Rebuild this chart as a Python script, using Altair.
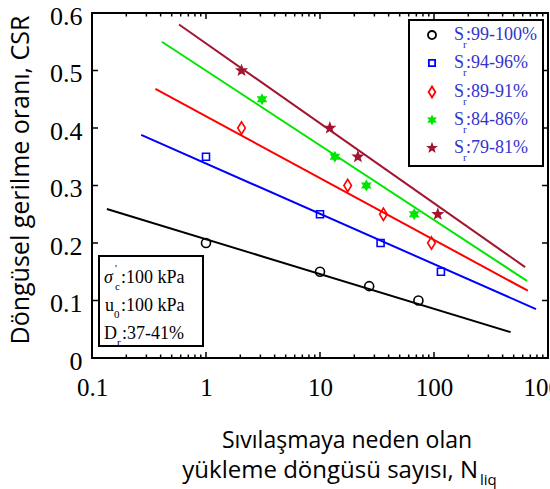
import math
import altair as alt
import pandas as pd

# ---------------- data ----------------
series_labels = [":99-100%", ":94-96%", ":89-91%", ":84-86%", ":79-81%"]
series_colors = ["#000000", "#0000ff", "#ff0000", "#00e600", "#a2142f"]

n_s99 = [1, 10, 27, 73]
csr_s99 = [0.20, 0.15, 0.125, 0.10]
n_s94 = [1, 10, 34, 115]
csr_s94 = [0.35, 0.25, 0.20, 0.15]
n_s89 = [2.05, 17.5, 36, 95]
csr_s89 = [0.40, 0.30, 0.25, 0.20]
n_s84 = [3.1, 13.5, 25.5, 67]
csr_s84 = [0.45, 0.35, 0.30, 0.25]
n_s79 = [2.05, 12.2, 21.5, 108]
csr_s79 = [0.50, 0.40, 0.35, 0.25]

# fitted trend lines (start / end)
fit_n = [[0.135, 470], [0.27, 785], [0.36, 665], [0.41, 655], [0.58, 630]]
fit_csr = [[0.259, 0.045], [0.388, 0.085], [0.468, 0.117], [0.55, 0.134], [0.58, 0.158]]

x_major = [0.1, 1, 10, 100, 1000]
x_minor = [k * 10.0 ** d for d in range(-1, 3) for k in range(2, 10)]
y_major = [0, 0.1, 0.2, 0.3, 0.4, 0.5, 0.6]

pts_n = [n_s99, n_s94, n_s89, n_s84, n_s79]
pts_csr = [csr_s99, csr_s94, csr_s89, csr_s84, csr_s79]

# ---------------- shapes ----------------
def star_path(points, inner):
    coords = []
    for i in range(points * 2):
        r = 1.0 if i % 2 == 0 else inner
        a = -math.pi / 2 + i * math.pi / points
        coords.append(f"{r * math.cos(a):.3f},{r * math.sin(a):.3f}")
    return "M" + "L".join(coords) + "Z"

diamond = "M0,-1L0.62,0L0,1L-0.62,0Z"
star6 = star_path(6, 0.55)
star5 = star_path(5, 0.42)
shapes = ["circle", "square", diamond, star6, star5]
sizes = [81, 49, 150, 150, 190]
filled = [False, False, False, True, True]

W, H = 456, 345
SERIF = "Liberation Serif"
SANS = "Open Sans"

xs = alt.Scale(type="log", domain=[0.1, 1000], nice=False)
ys = alt.Scale(domain=[0, 0.6], nice=False)
xaxis = alt.Axis(values=x_major, format="~g", grid=False, ticks=False, domain=False,
                 labelFont=SERIF, labelFontSize=25, labelColor="black", labelPadding=17,
                 labelFlush=False, labelOverlap=False)
yaxis = alt.Axis(values=y_major, grid=False, ticks=False, domain=False,
                 labelExpr="datum.value == 0 ? '0' : format(datum.value, '.1f')",
                 labelFont=SERIF, labelFontSize=26, labelColor="black", labelPadding=10,
                 labelOffset=3, labelFlush=False, labelOverlap=False)
X = alt.X("n:Q", scale=xs, axis=xaxis, title="")
Y = alt.Y("csr:Q", scale=ys, axis=yaxis, title="")

layers = []

# fitted lines
for i in range(5):
    df = pd.DataFrame({"n": fit_n[i], "csr": fit_csr[i]})
    layers.append(alt.Chart(df).mark_line(color=series_colors[i], strokeWidth=2).encode(x=X, y=Y))

# data points
for i in range(5):
    df = pd.DataFrame({"n": pts_n[i], "csr": pts_csr[i]})
    kw = dict(shape=shapes[i], size=sizes[i], filled=filled[i], color=series_colors[i], opacity=1)
    if not filled[i]:
        kw["strokeWidth"] = 1.6
    layers.append(alt.Chart(df).mark_point(**kw).encode(x=X, y=Y))

# inward ticks
xmaj = pd.DataFrame({"n": x_major})
xmin = pd.DataFrame({"n": x_minor})
ymaj = pd.DataFrame({"csr": y_major})
for df, ln in ((xmaj, 6), (xmin, 3.5)):
    layers.append(alt.Chart(df).mark_rule(color="black", strokeWidth=1.5).encode(
        x=X, y=alt.value(H), y2=alt.value(H - ln)))
    layers.append(alt.Chart(df).mark_rule(color="black", strokeWidth=1.5).encode(
        x=X, y=alt.value(0), y2=alt.value(ln)))
layers.append(alt.Chart(ymaj).mark_rule(color="black", strokeWidth=1.5).encode(
    y=Y, x=alt.value(0), x2=alt.value(6)))
layers.append(alt.Chart(ymaj).mark_rule(color="black", strokeWidth=1.5).encode(
    y=Y, x=alt.value(W), x2=alt.value(W - 6)))

one = pd.DataFrame({"a": [0]})

def txt(t, x, y, size=18, font=SERIF, color="black", align="left", baseline="middle", **kw):
    return alt.Chart(one).mark_text(text=t, font=font, fontSize=size, color=color,
                                    align=align, baseline=baseline, **kw).encode(
        x=alt.value(x), y=alt.value(y))

# legend box
layers.append(alt.Chart(one).mark_rect(fill="white", stroke="black", strokeWidth=2).encode(
    x=alt.value(317), x2=alt.value(451), y=alt.value(7), y2=alt.value(153)))
legend_rows = [22, 50, 79, 107, 135]
LEG_BLUE = "#3333cc"
for i in range(5):
    ry = legend_rows[i]
    kw = dict(shape=shapes[i], size=sizes[i] * 0.8, filled=filled[i], color=series_colors[i], opacity=1)
    if not filled[i]:
        kw["strokeWidth"] = 1.8
    layers.append(alt.Chart(one).mark_point(**kw).encode(x=alt.value(340), y=alt.value(ry)))
    layers.append(txt("S", 362, ry, color=LEG_BLUE))
    layers.append(txt("r", 371, ry + 10, size=11, color=LEG_BLUE))
    layers.append(txt(series_labels[i], 374, ry, color=LEG_BLUE))

# condition box
layers.append(alt.Chart(one).mark_rect(fill="white", stroke="black", strokeWidth=2).encode(
    x=alt.value(7), x2=alt.value(111), y=alt.value(243), y2=alt.value(333)))
layers.append(txt("σ", 12, 265, fontStyle="italic"))
layers.append(txt("'", 23, 256, size=11))
layers.append(txt("c", 23, 274, size=11))
layers.append(txt(":100 kPa", 29, 265))
layers.append(txt("u", 13, 293))
layers.append(txt("0", 22, 302, size=11))
layers.append(txt(":100 kPa", 29, 293))
layers.append(txt("D", 12, 321))
layers.append(txt("r", 25, 330, size=11))
layers.append(txt(":37-41%", 30, 321))

# axis titles
layers.append(alt.Chart(one).mark_text(text="Döngüsel gerilme oranı, CSR", font=SANS, fontSize=25,
                                       angle=270, align="center", baseline="middle", color="black").encode(
    x=alt.value(-71), y=alt.value(167)))
layers.append(txt("Sıvılaşmaya neden olan", 255, 435, size=23, font=SANS, align="center",
                  baseline="alphabetic"))
layers.append(txt("yükleme döngüsü sayısı, N", 386, 465, size=24, font=SANS, align="right",
                  baseline="alphabetic"))
layers.append(txt("liq", 388, 472, size=15, font=SANS, baseline="alphabetic"))

chart = alt.layer(*layers).properties(
    width=W, height=H,
    autosize=alt.AutoSizeParams(type="none"),
    padding={"left": 92, "top": 13, "right": 2, "bottom": 131},
    background="white",
).configure_view(stroke="black", strokeWidth=2)

chart.save("out.html", embed_options={"renderer": "svg", "actions": False})
